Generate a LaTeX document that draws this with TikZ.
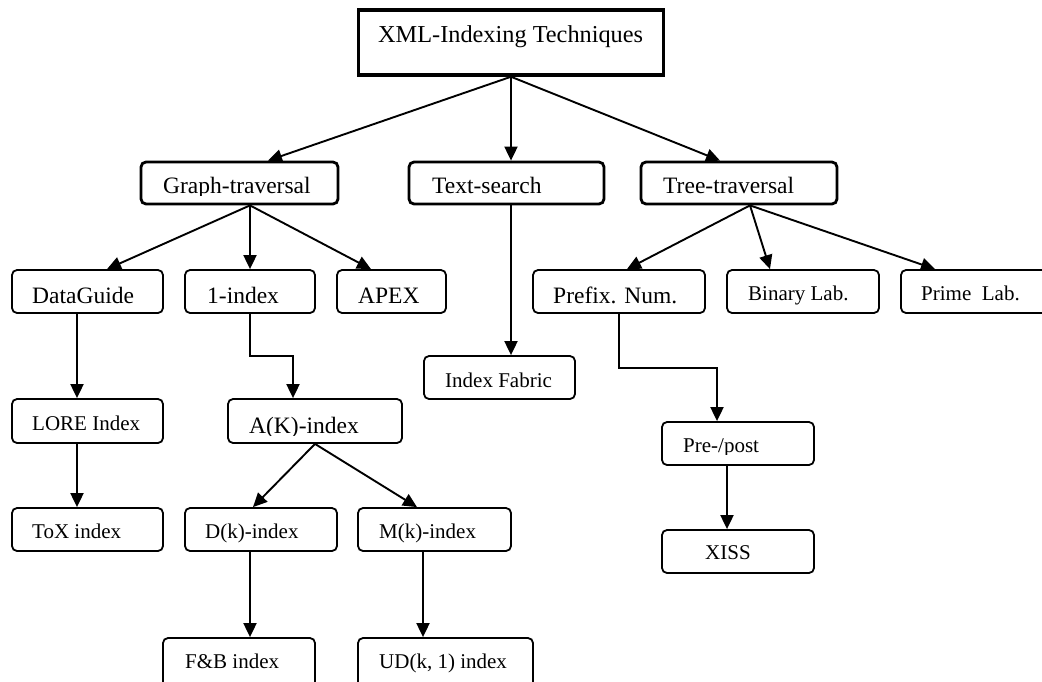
\documentclass[tikz,border=0pt]{standalone}
\usepackage{fontspec}
\setmainfont{Liberation Serif}
\usetikzlibrary{arrows.meta}

\tikzset{
  box/.style={draw, line width=1.8pt, rounded corners=5pt, inner sep=0pt, fill=white},
  midbox/.style={box, line width=2.8pt},
  topbox/.style={draw, line width=3.5pt, inner sep=0pt, fill=white},
  big/.style={inner sep=0pt, anchor=base west, font=\fontsize{23.5}{28}\selectfont},
  small/.style={inner sep=0pt, anchor=base west, font=\fontsize{21}{25}\selectfont},
  title/.style={inner sep=0pt, anchor=base west, font=\fontsize{24.3}{29}\selectfont},
  arr/.style={line width=1.9pt, -{Triangle[length=14pt,width=13pt]}},
}

\begin{document}
\begin{tikzpicture}[x=1pt, y=-1pt]
\useasboundingbox (0,0) rectangle (1042,681);
\clip (0,0) rectangle (1042,681);
\fill[white] (0,0) rectangle (1042,681);

% ---- boxes ----
\node[topbox, minimum width=305pt, minimum height=65pt] (root) at (511,42.5) {};

\node[midbox, minimum width=197pt, minimum height=42pt] (gt) at (239.5,183) {};
\node[midbox, minimum width=195pt, minimum height=42pt] (ts) at (506.5,183) {};
\node[midbox, minimum width=196pt, minimum height=42pt] (tt) at (739,183) {};

\node[box, minimum width=151pt, minimum height=43pt] (dg)   at (87.5,291.5) {};
\node[box, minimum width=130pt, minimum height=43pt] (oi)   at (250,291.5) {};
\node[box, minimum width=109pt, minimum height=43pt] (apex) at (391.5,291.5) {};
\node[box, minimum width=172pt, minimum height=43pt] (pn)   at (619,291.5) {};
\node[box, minimum width=152pt, minimum height=43pt] (bl)   at (803,291.5) {};
\node[box, minimum width=159pt, minimum height=43pt] (pl)   at (980.5,291.5) {};

\node[box, minimum width=151pt, minimum height=43pt] (ifab) at (499.5,377.5) {};

\node[box, minimum width=151pt, minimum height=44pt] (lore) at (87.5,421) {};
\node[box, minimum width=174pt, minimum height=44pt] (ak)   at (315,421) {};
\node[box, minimum width=152pt, minimum height=43pt] (pp)   at (738,443.5) {};

\node[box, minimum width=151pt, minimum height=43pt] (tox)  at (87.5,529.5) {};
\node[box, minimum width=152pt, minimum height=43pt] (dk)   at (261,529.5) {};
\node[box, minimum width=153pt, minimum height=43pt] (mk)   at (434.5,529.5) {};
\node[box, minimum width=152pt, minimum height=43pt] (xiss) at (738,551.5) {};

\node[box, minimum width=152pt, minimum height=52pt] (fb)   at (239,664) {};
\node[box, minimum width=175pt, minimum height=52pt] (ud)   at (445.5,664) {};

% ---- labels ----
\node[title] (t-root) at (378,42) {XML-Indexing Techniques};

\begin{scope}
  \clip (141,162) rectangle (338,195);
  \node[big] (t-gt) at (163,193) {Graph-traversal};
\end{scope}
\begin{scope}
  \clip (409,162) rectangle (604,195);
  \node[big] (t-ts) at (432,193) {Text-search};
\end{scope}
\begin{scope}
  \clip (641,162) rectangle (837,195);
  \node[big] (t-tt) at (663,193) {Tree-traversal};
\end{scope}

\node[big] (t-dg)   at (32,303)  {DataGuide};
\node[big] (t-oi)   at (207,303) {1-index};
\node[big] (t-apex) at (358,303) {APEX};
\node[big] (t-pn)   at (553,303) {Prefix. Num.};
\node[small] (t-bl) at (748,300) {Binary Lab.};
\node[small] (t-pl) at (921,300) {Prime\ \ Lab.};

\node[small] (t-if) at (445,387) {Index Fabric};

\node[small] (t-lore) at (32,430) {LORE Index};
\begin{scope}
  \clip (228,399) rectangle (402,435);
  \node[big] (t-ak) at (249,433) {A(K)-index};
\end{scope}
\begin{scope}
  \clip (662,422) rectangle (814,454);
  \node[small] (t-pp) at (683,452) {Pre-/post};
\end{scope}

\node[small] (t-tox)  at (32,538)  {ToX index};
\node[small] (t-dk)   at (205,538) {D(k)-index};
\node[small] (t-mk)   at (379,538) {M(k)-index};
\node[small] (t-xiss) at (705,559) {XISS};

\node[small] (t-fb) at (185,668) {F\&B index};
\node[small] (t-ud) at (379,668) {UD(k, 1) index};

% ---- connectors ----
\draw[arr] (root.south) -- ([xshift=28.5pt]gt.north);
\draw[arr] (root.south) -- ([xshift=4.5pt]ts.north);
\draw[arr] (root.south) -- ([xshift=-19pt]tt.north);

\draw[arr] ([xshift=10.5pt]gt.south) -- ([xshift=19.5pt]dg.north);
\draw[arr] ([xshift=10.5pt]gt.south) -- (oi.north);
\draw[arr] ([xshift=10.5pt]gt.south) -- ([xshift=-20.5pt]apex.north);

\draw[arr] ([xshift=4.5pt]ts.south) -- ([xshift=11.5pt]ifab.north);

\draw[arr] ([xshift=11pt]tt.south) -- ([xshift=8pt]pn.north);
\draw[arr] ([xshift=11pt]tt.south) -- ([xshift=-33pt]bl.north);
\draw[arr] ([xshift=11pt]tt.south) -- ([xshift=-45.5pt]pl.north);

\draw[arr] ([xshift=-10.5pt]dg.south) -- ([xshift=-10.5pt]lore.north);
\draw[arr] ([xshift=-10.5pt]lore.south) -- ([xshift=-10.5pt]tox.north);

\draw[arr] (oi.south) -- ++(0,42) -| ([xshift=-22pt]ak.north);
\draw[arr] (ak.south) -- ([xshift=-8pt]dk.north);
\draw[arr] (ak.south) -- ([xshift=-17.5pt]mk.north);
\draw[arr] ([xshift=-11pt]dk.south) -- ([xshift=11pt]fb.north);
\draw[arr] ([xshift=-11.5pt]mk.south) -- ([xshift=-22.5pt]ud.north);

\draw[arr] (pn.south) -- ++(0,54) -| ([xshift=-21pt]pp.north);
\draw[arr] ([xshift=-11pt]pp.south) -- ([xshift=-11pt]xiss.north);
\end{tikzpicture}
\end{document}
